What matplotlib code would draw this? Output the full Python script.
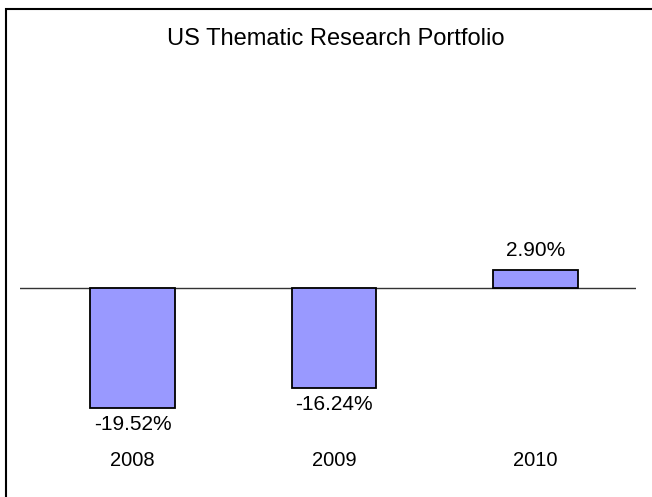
import matplotlib
matplotlib.use("Agg")
import matplotlib.pyplot as plt
from matplotlib.patches import Rectangle

plt.rcParams['font.family'] = ['Liberation Sans', 'DejaVu Sans']

years = ["2008", "2009", "2010"]
returns = [-19.52, -16.24, 2.90]
labels = ["-19.52%", "-16.24%", "2.90%"]
title = "US Thematic Research Portfolio"

W, H = 652, 497
fig = plt.figure(figsize=(W / 100, H / 100), dpi=100)

# border of chart area (extends beyond right/bottom of image)
fig.patches.append(Rectangle((6 / W, -0.1), 1.2, (H - 9) / H + 0.1, transform=fig.transFigure,
                             fill=False, edgecolor='black', linewidth=1.5))

ax = fig.add_axes([20 / W, (H - 440) / H, (636 - 20) / W, (440 - 60) / H])
x = list(range(len(years)))
bars = ax.bar(x, returns, width=0.42, color='#9999FF', edgecolor='black', linewidth=1.3, zorder=3)
ax.axhline(0, color='#333333', linewidth=1.0, zorder=2)
ax.set_xlim(-0.56, 2.50)
ax.set_ylim(-24.72, 37.07)

for b, v, lab in zip(bars, returns, labels):
    if v < 0:
        ax.annotate(lab, (b.get_x() + b.get_width() / 2, v), xytext=(0, -5), textcoords='offset points',
                    ha='center', va='top', fontsize=15)
    else:
        ax.annotate(lab, (b.get_x() + b.get_width() / 2, v), xytext=(0, 7), textcoords='offset points',
                    ha='center', va='bottom', fontsize=15)

ax.set_xticks(x)
ax.set_xticklabels(years, fontsize=14.5)
ax.tick_params(axis='x', length=0, pad=8)
ax.set_yticks([])
for s in ax.spines.values():
    s.set_visible(False)
ax.patch.set_alpha(0)

fig.text(336 / W, 1 - 39 / H, title, ha='center', va='center', fontsize=17)

fig.savefig("out.png", dpi=100)
